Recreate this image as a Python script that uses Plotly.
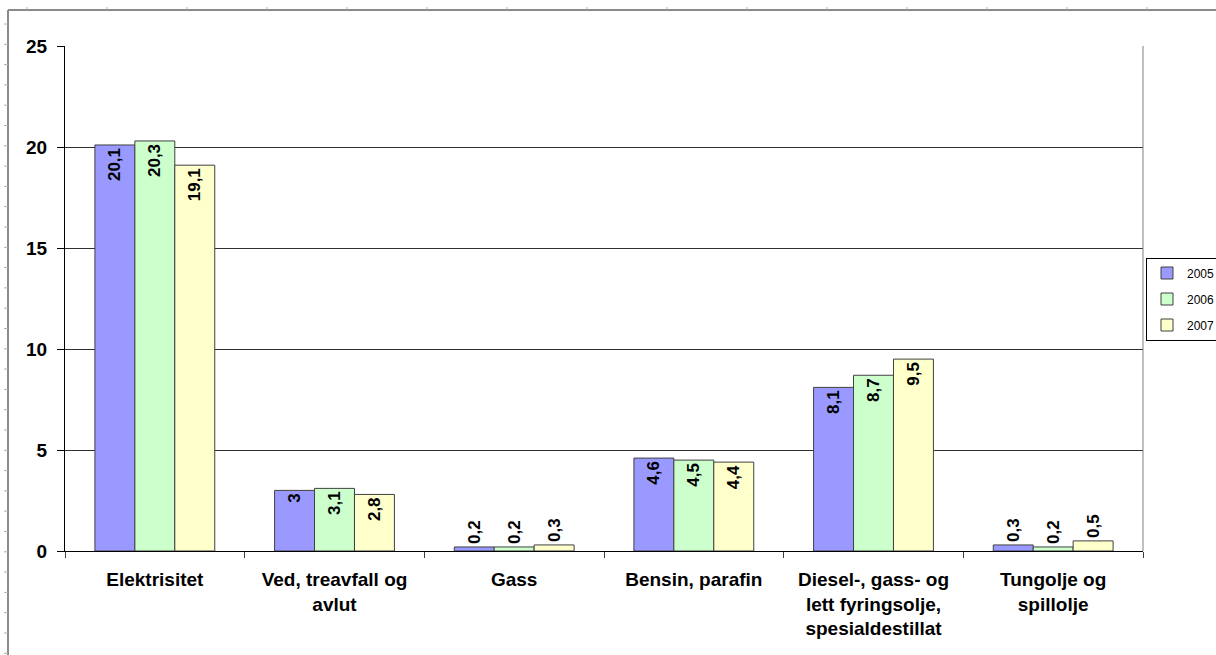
import plotly.graph_objects as go

categories = ["Elektrisitet", "Ved, treavfall og<br>avlut", "Gass", "Bensin, parafin",
              "Diesel-, gass- og<br>lett fyringsolje,<br>spesialdestillat", "Tungolje og<br>spillolje"]
years = ["2005", "2006", "2007"]
v2005 = [20.1, 3.0, 0.2, 4.6, 8.1, 0.3]
v2006 = [20.3, 3.1, 0.2, 4.5, 8.7, 0.2]
v2007 = [19.1, 2.8, 0.3, 4.4, 9.5, 0.5]
y_ticks = [0, 5, 10, 15, 20, 25]

colors = ["#9999FF", "#CCFFCC", "#FFFFCC"]
W, H = 1216, 655
L, R, T, B = 65, 1143, 46, 551
FONT = "Liberation Sans, Arial, sans-serif"


def fmt(v):
    return f"{v:g}".replace(".", ",")


fig = go.Figure()
for name, vals, col in zip(years, [v2005, v2006, v2007], colors):
    fig.add_trace(go.Bar(
        x=categories, y=vals, name=name, legendgroup=name,
        marker=dict(color=col, line=dict(color="#404040", width=1)),
        text=[fmt(v) for v in vals],
        textposition=["inside" if v >= 1 else "outside" for v in vals],
        insidetextanchor="end", textangle=-90, constraintext="none",
        cliponaxis=False,
        textfont=dict(family=FONT, size=17, color="black", weight="bold"),
    ))


def px(x):
    return (x - L) / (R - L)


def py(y):
    return (B - y) / (B - T)


shapes = []
# right border of plot area
shapes.append(dict(type="line", xref="paper", yref="paper", x0=1, x1=1, y0=0, y1=1,
                   line=dict(color="#808080", width=1)))
# outer frame
shapes.append(dict(type="line", xref="paper", yref="paper", x0=px(8), x1=px(1216), y0=py(10), y1=py(10),
                   line=dict(color="#8a8a8a", width=2)))
shapes.append(dict(type="line", xref="paper", yref="paper", x0=px(8), x1=px(8), y0=py(10), y1=py(655),
                   line=dict(color="#8a8a8a", width=2)))
xx = 27
while xx < W:
    shapes.append(dict(type="line", xref="paper", yref="paper", x0=px(xx), x1=px(xx), y0=py(7), y1=py(10),
                       line=dict(color="#b0b0b0", width=1)))
    xx += 80
yy = 24.0
while yy < H:
    shapes.append(dict(type="line", xref="paper", yref="paper", x0=px(4), x1=px(8), y0=py(yy), y1=py(yy),
                       line=dict(color="#b0b0b0", width=1)))
    yy += 20.3

fig.update_layout(
    width=W, height=H,
    margin=dict(l=L, r=W - R, t=T, b=H - B, autoexpand=False),
    paper_bgcolor="white", plot_bgcolor="white",
    barmode="group", bargap=0.333, bargroupgap=0,
    font=dict(family=FONT, color="black"),
    showlegend=True,
    legend=dict(x=px(1146), y=py(299), xanchor="left", yanchor="middle",
                bordercolor="black", borderwidth=1, bgcolor="white",
                font=dict(family=FONT, size=12, color="black"),
                tracegroupgap=7, itemwidth=30),
    shapes=shapes,
    xaxis=dict(type="category", showgrid=False, showline=True, linecolor="black", linewidth=1,
               ticks="outside", tickson="boundaries", ticklen=6, tickcolor="#404040",
               tickfont=dict(family=FONT, size=19, color="black", weight="bold"),
               ticklabelstandoff=11),
    yaxis=dict(range=[0, 25], tickvals=y_ticks, showgrid=True, gridcolor="#303030", gridwidth=1,
               showline=True, linecolor="black", linewidth=1, zeroline=False,
               ticks="outside", ticklen=7, tickcolor="black",
               tickfont=dict(family=FONT, size=19, color="black", weight="bold"),
               ticklabelstandoff=6),
)

fig.write_html("out.html")
